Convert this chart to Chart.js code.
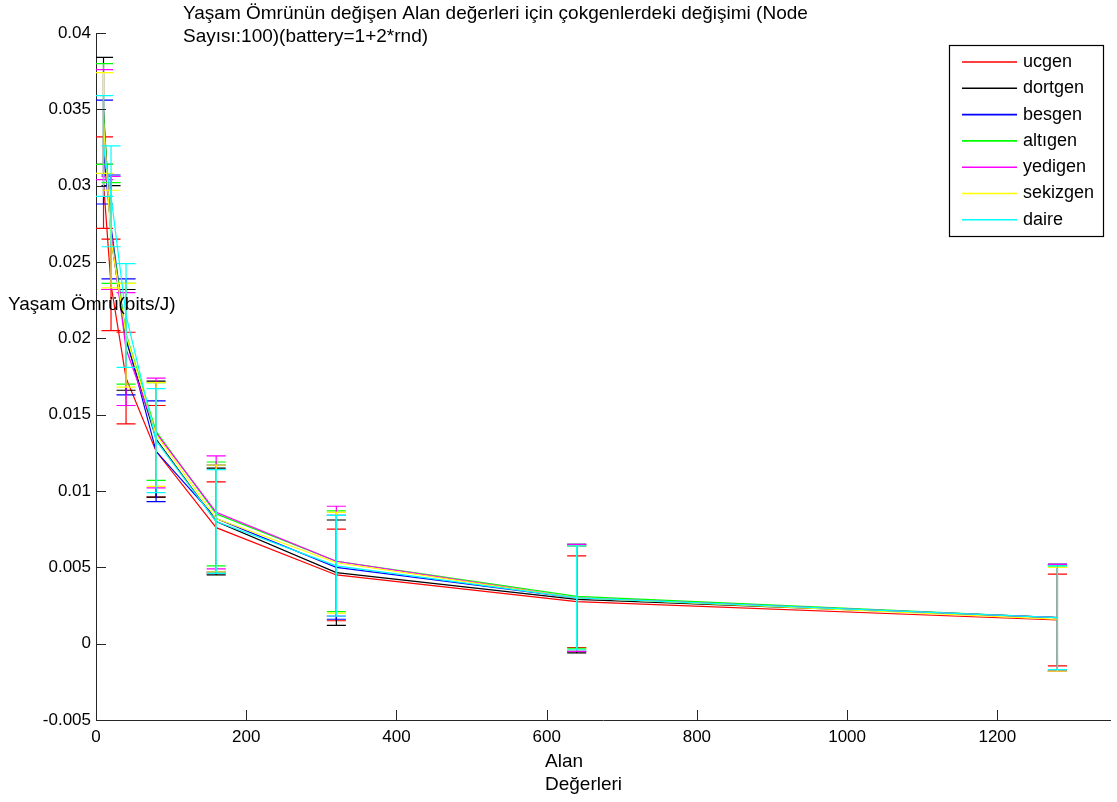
<!DOCTYPE html>
<html>
<head>
<meta charset="utf-8">
<script src="https://cdn.jsdelivr.net/npm/chart.js@4"></script>
<style>
    html, body { margin: 0; padding: 0; background: #ffffff; }
    #chart { display: block; }
</style>
</head>
<body>
<canvas id="chart" width="1117" height="802"></canvas>
<script>
// Alan values (x) and tick labels
const alanValues = [10, 20, 40, 80, 160, 320, 640, 1280];
const xTicks = [0, 200, 400, 600, 800, 1000, 1200];
const yTicks = [-0.005, 0, 0.005, 0.01, 0.015, 0.02, 0.025, 0.03, 0.035, 0.04];
const yTickLabels = ['-0.005', '0', '0.005', '0.01', '0.015', '0.02', '0.025', '0.03', '0.035', '0.04'];

// Series names and colours (legend order)
const seriesNames = ['ucgen', 'dortgen', 'besgen', 'altıgen', 'yedigen', 'sekizgen', 'daire'];
const seriesColors = ['#ff0000', '#000000', '#0000ff', '#00ff00', '#ff00ff', '#ffff00', '#00ffff'];

// Mean lifetime values per series
const ucgenMean    = [0.0302, 0.0235, 0.0174, 0.0126, 0.0076, 0.0045, 0.00275, 0.00155];
const dortgenMean  = [0.0349, 0.0266, 0.0199, 0.0134, 0.0080, 0.00465, 0.0029, 0.0017];
const besgenMean   = [0.0322, 0.0273, 0.0201, 0.0126, 0.0082, 0.0050, 0.0030, 0.0017];
const altigenMean  = [0.0347, 0.0269, 0.0203, 0.0139, 0.0085, 0.0054, 0.0031, 0.0017];
const yedigenMean  = [0.0340, 0.0269, 0.0193, 0.0138, 0.0086, 0.0054, 0.0030, 0.0017];
const sekizgenMean = [0.0341, 0.0265, 0.0202, 0.0137, 0.0082, 0.0053, 0.0030, 0.0016];
const daireMean    = [0.0326, 0.0293, 0.0215, 0.0133, 0.0080, 0.0051, 0.0030, 0.0017];

// Error (std) per series
const ucgenErr    = [0.0030, 0.0030, 0.0030, 0.0030, 0.0030, 0.0030, 0.0030, 0.0030];
const dortgenErr  = [0.0035, 0.0034, 0.0033, 0.0038, 0.0035, 0.00345, 0.0035, 0.0035];
const besgenErr   = [0.0034, 0.0034, 0.0038, 0.0033, 0.0035, 0.0034, 0.0035, 0.0035];
const altigenErr  = [0.0033, 0.0033, 0.0033, 0.0032, 0.0034, 0.0033, 0.0034, 0.0034];
const yedigenErr  = [0.0036, 0.0037, 0.0037, 0.0036, 0.0037, 0.0036, 0.0035, 0.0035];
const sekizgenErr = [0.0033, 0.0032, 0.0034, 0.0034, 0.0035, 0.0033, 0.0034, 0.0034];
const daireErr    = [0.0033, 0.0033, 0.0034, 0.0034, 0.0034, 0.0033, 0.0034, 0.0034];

const seriesMeans = [ucgenMean, dortgenMean, besgenMean, altigenMean, yedigenMean, sekizgenMean, daireMean];
const seriesErrs = [ucgenErr, dortgenErr, besgenErr, altigenErr, yedigenErr, sekizgenErr, daireErr];

const titleLines = ['Yaşam Ömrünün değişen Alan değerleri için çokgenlerdeki değişimi (Node', 'Sayısı:100)(battery=1+2*rnd)'];
const yAxisLabel = 'Yaşam Ömrü(bits/J)';
const xAxisLabel = ['Alan', 'Değerleri'];

const FONT_FAMILY = '"Liberation Sans", Arial, sans-serif';
const AXIS_COLOR = '#262626';

// Error bars drawn right after each series line (MATLAB errorbar look)
const errorBarPlugin = {
    id: 'errorBars',
    afterDatasetDraw(chart, args) {
        const ctx = chart.ctx;
        const xs = chart.scales.x;
        const ys = chart.scales.y;
        const i = args.index;
        const means = seriesMeans[i];
        const errs = seriesErrs[i];
        const tee = (alanValues[alanValues.length - 1] - alanValues[0]) / 100;
        const area = chart.chartArea;

        ctx.save();
        ctx.beginPath();
        ctx.rect(area.left, area.top, area.right - area.left, area.bottom - area.top);
        ctx.clip();
        ctx.strokeStyle = seriesColors[i];
        ctx.lineWidth = 1.2;
        ctx.beginPath();
        alanValues.forEach((x, k) => {
            const px = xs.getPixelForValue(x);
            const left = xs.getPixelForValue(x - tee);
            const right = xs.getPixelForValue(x + tee);
            const top = ys.getPixelForValue(means[k] + errs[k]);
            const bottom = ys.getPixelForValue(means[k] - errs[k]);
            ctx.moveTo(px, top);
            ctx.lineTo(px, bottom);
            ctx.moveTo(left, top);
            ctx.lineTo(right, top);
            ctx.moveTo(left, bottom);
            ctx.lineTo(right, bottom);
        });
        ctx.stroke();
        ctx.restore();
    }
};

// Inward ticks, title, axis labels and legend box
const decorPlugin = {
    id: 'decor',
    afterDraw(chart) {
        const ctx = chart.ctx;
        const xs = chart.scales.x;
        const ys = chart.scales.y;
        const area = chart.chartArea;

        ctx.save();
        ctx.strokeStyle = AXIS_COLOR;
        ctx.lineWidth = 1;
        ctx.beginPath();
        xTicks.forEach(v => {
            const px = Math.round(xs.getPixelForValue(v)) + 0.5;
            ctx.moveTo(px, area.bottom);
            ctx.lineTo(px, area.bottom - 10);
        });
        yTicks.forEach(v => {
            const py = Math.round(ys.getPixelForValue(v)) + 0.5;
            ctx.moveTo(area.left, py);
            ctx.lineTo(area.left + 10, py);
        });
        ctx.stroke();

        ctx.fillStyle = '#000000';
        ctx.font = '19px ' + FONT_FAMILY;
        ctx.textAlign = 'left';
        ctx.textBaseline = 'middle';
        ctx.fillText(titleLines[0], 183, 14);
        ctx.fillText(titleLines[1], 183, 37);
        ctx.fillText(yAxisLabel, 8, 305);
        ctx.fillText(xAxisLabel[0], 545, 762);
        ctx.fillText(xAxisLabel[1], 545, 785);

        // Legend
        const box = { left: 949.5, top: 45.5, width: 154, height: 191 };
        ctx.fillStyle = '#ffffff';
        ctx.fillRect(box.left, box.top, box.width, box.height);
        ctx.strokeStyle = '#000000';
        ctx.lineWidth = 1.2;
        ctx.strokeRect(box.left, box.top, box.width, box.height);
        ctx.font = '18px ' + FONT_FAMILY;
        seriesNames.forEach((name, i) => {
            const y = 62 + i * 26.3;
            ctx.strokeStyle = seriesColors[i];
            ctx.lineWidth = 1.6;
            ctx.beginPath();
            ctx.moveTo(962, y);
            ctx.lineTo(1017, y);
            ctx.stroke();
            ctx.fillStyle = '#000000';
            ctx.fillText(name, 1023, y);
        });
        ctx.restore();
    }
};

const datasets = seriesNames.map((name, i) => ({
    label: name,
    data: alanValues.map((x, k) => ({ x: x, y: seriesMeans[i][k] })),
    borderColor: seriesColors[i],
    backgroundColor: seriesColors[i],
    borderWidth: 1.2,
    pointRadius: 0,
    tension: 0,
    fill: false,
    order: seriesNames.length - i
}));

new Chart(document.getElementById('chart').getContext('2d'), {
    type: 'line',
    data: { datasets: datasets },
    options: {
        responsive: false,
        animation: false,
        devicePixelRatio: 1,
        layout: { padding: { left: 0, top: 33, right: 7, bottom: 0 } },
        plugins: {
            legend: { display: false },
            title: { display: false },
            tooltip: { enabled: false }
        },
        scales: {
            x: {
                type: 'linear',
                min: 0,
                max: 1350,
                afterBuildTicks: scale => { scale.ticks = xTicks.map(v => ({ value: v })); },
                afterFit: scale => { scale.height = 82; },
                grid: { display: false, drawTicks: false },
                border: { display: true, color: AXIS_COLOR, width: 1 },
                ticks: {
                    color: '#000000',
                    padding: 7,
                    maxRotation: 0,
                    font: { family: FONT_FAMILY, size: 17 },
                    callback: v => String(v)
                }
            },
            y: {
                type: 'linear',
                min: -0.005,
                max: 0.04,
                afterBuildTicks: scale => { scale.ticks = yTicks.map(v => ({ value: v })); },
                afterFit: scale => { scale.width = 96; },
                grid: { display: false, drawTicks: false },
                border: { display: true, color: AXIS_COLOR, width: 1 },
                ticks: {
                    color: '#000000',
                    padding: 5,
                    font: { family: FONT_FAMILY, size: 17 },
                    callback: (v, idx) => yTickLabels[idx]
                }
            }
        }
    },
    plugins: [errorBarPlugin, decorPlugin]
});
</script>
</body>
</html>
